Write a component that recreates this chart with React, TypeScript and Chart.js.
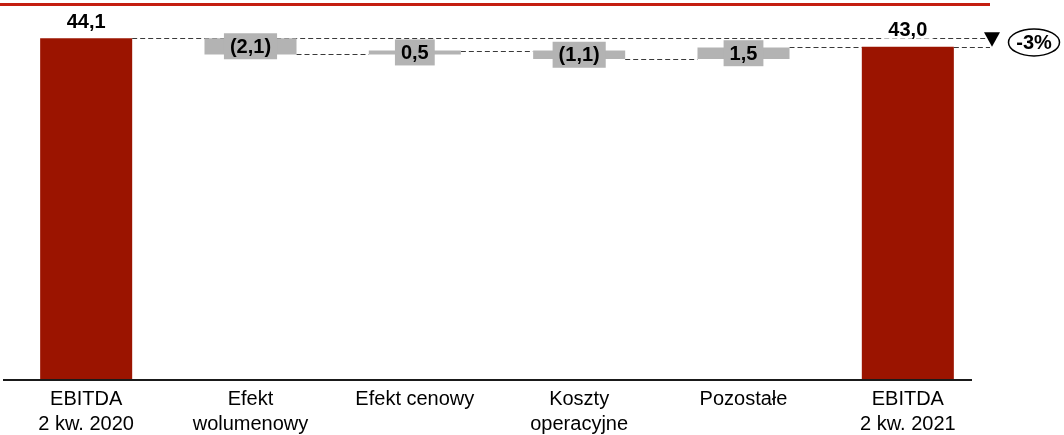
import React, { useEffect, useRef } from "react";
import { Chart, registerables } from "chart.js";

Chart.register(...registerables);

const categories: (string | string[])[] = [
  ["EBITDA", "2 kw. 2020"],
  ["Efekt", "wolumenowy"],
  "Efekt cenowy",
  ["Koszty", "operacyjne"],
  "Pozostałe",
  ["EBITDA", "2 kw. 2021"],
];
const values = [44.1, -2.1, 0.5, -1.1, 1.5, 43.0];
const kinds = ["total", "delta", "delta", "delta", "delta", "total"];
const valueLabels = ["44,1", "(2,1)", "0,5", "(1,1)", "1,5", "43,0"];
const changeLabel = "-3%";

const RED = "#9B1400";
const LINE_RED = "#C41E10";
const GRAY = "#B3B3B3";
const FONT = "'Liberation Sans', Arial, sans-serif";

function buildRanges() {
  const ranges: [number, number][] = [];
  let running = 0;
  values.forEach((v, i) => {
    if (kinds[i] === "total") {
      ranges.push([0, v]);
      running = v;
    } else {
      ranges.push([running, running + v]);
      running = running + v;
    }
  });
  return ranges;
}

const ranges = buildRanges();
const ends = ranges.map((r, i) => (kinds[i] === "total" ? r[1] : r[1]));

const waterfallPlugin = {
  id: "waterfallDeco",
  beforeDatasetsDraw(chart: any) {
    const { ctx, chartArea } = chart;
    const meta = chart.getDatasetMeta(0);
    const ys = chart.scales.y;
    ctx.save();
    // top red rule
    ctx.strokeStyle = LINE_RED;
    ctx.lineWidth = 3;
    ctx.beginPath();
    ctx.moveTo(0, 4.5);
    ctx.lineTo(chartArea.right, 4.5);
    ctx.stroke();

    ctx.setLineDash([5, 3]);
    ctx.strokeStyle = "#3a3a3a";
    ctx.lineWidth = 1;
    const n = meta.data.length;
    for (let i = 1; i < n - 1; i++) {
      const a = meta.data[i];
      const b = meta.data[i + 1];
      const py = Math.round(ys.getPixelForValue(ends[i])) + 0.5;
      ctx.beginPath();
      ctx.moveTo(a.x + a.width / 2, py);
      ctx.lineTo(b.x - b.width / 2, py);
      ctx.stroke();
    }
    // reference lines from totals to the right
    [0, n - 1].forEach((i) => {
      const a = meta.data[i];
      const py = Math.round(ys.getPixelForValue(values[i])) + 0.5;
      ctx.beginPath();
      ctx.moveTo(a.x + a.width / 2, py);
      ctx.lineTo(chartArea.right, py);
      ctx.stroke();
    });
    ctx.restore();
  },
  afterDatasetsDraw(chart: any) {
    const { ctx, chartArea } = chart;
    const meta = chart.getDatasetMeta(0);
    const ys = chart.scales.y;
    ctx.save();
    // baseline
    ctx.strokeStyle = "#1a1a1a";
    ctx.lineWidth = 2;
    ctx.beginPath();
    ctx.moveTo(chartArea.left - 1, chartArea.bottom + 1);
    ctx.lineTo(chartArea.right - 18, chartArea.bottom + 1);
    ctx.stroke();

    ctx.font = `bold 20px ${FONT}`;
    ctx.textAlign = "center";
    ctx.textBaseline = "middle";
    meta.data.forEach((el: any, i: number) => {
      const label = valueLabels[i];
      if (kinds[i] === "total") {
        const cy = Math.min(el.y, el.base) - 17;
        const w = ctx.measureText(label).width;
        ctx.fillStyle = "#ffffff";
        ctx.fillRect(el.x - w / 2 - 6, cy - 11, w + 12, 20);
        ctx.fillStyle = "#000000";
        ctx.fillText(label, el.x, cy + 1);
      } else {
        const cy = (el.y + el.base) / 2;
        const w = ctx.measureText(label).width;
        ctx.fillStyle = GRAY;
        ctx.fillRect(el.x - w / 2 - 6, cy - 13, w + 12, 26);
        ctx.fillStyle = "#000000";
        ctx.fillText(label, el.x, cy + 1);
      }
    });

    // change indicator
    const yTop = ys.getPixelForValue(values[0]);
    const yBot = ys.getPixelForValue(values[values.length - 1]);
    const tx = chartArea.right + 2;
    ctx.fillStyle = "#000000";
    ctx.beginPath();
    ctx.moveTo(tx - 8, yTop - 6);
    ctx.lineTo(tx + 8, yTop - 6);
    ctx.lineTo(tx, yBot);
    ctx.closePath();
    ctx.fill();

    const ex = chartArea.right + 44;
    const ey = (yTop + yBot) / 2;
    ctx.strokeStyle = "#000000";
    ctx.lineWidth = 1.5;
    ctx.beginPath();
    ctx.ellipse(ex, ey, 25.5, 13.5, 0, 0, Math.PI * 2);
    ctx.stroke();
    ctx.fillText(changeLabel, ex, ey + 1);
    ctx.restore();
  },
};

export default function App() {
  const canvasRef = useRef<HTMLCanvasElement | null>(null);

  useEffect(() => {
    if (!canvasRef.current) return;
    const chart = new Chart(canvasRef.current, {
      type: "bar",
      data: {
        labels: categories as any,
        datasets: [
          {
            data: ranges as any,
            backgroundColor: kinds.map((k) => (k === "total" ? RED : GRAY)),
            borderWidth: 0,
            borderSkipped: false,
            categoryPercentage: 1,
            barPercentage: 0.56,
          },
        ],
      },
      options: {
        animation: false,
        responsive: true,
        maintainAspectRatio: false,
        layout: { padding: { top: 8, left: 4, right: 74, bottom: 0 } },
        plugins: {
          legend: { display: false },
          tooltip: { enabled: false },
        },
        scales: {
          x: {
            grid: { display: false, drawTicks: false },
            border: { display: false },
            ticks: {
              color: "#000000",
              padding: 8,
              maxRotation: 0,
              autoSkip: false,
              font: { family: FONT, size: 20, lineHeight: 1.25 },
            },
            afterFit: (scale: any) => {
              scale.height = 56;
            },
          },
          y: {
            display: false,
            min: 0,
            max: 48,
          },
        },
      },
      plugins: [waterfallPlugin],
    });
    return () => chart.destroy();
  }, []);

  return (
    <div style={{ position: "absolute", left: 0, top: 0, width: 1064, height: 435 }}>
      <canvas ref={canvasRef} />
    </div>
  );
}
